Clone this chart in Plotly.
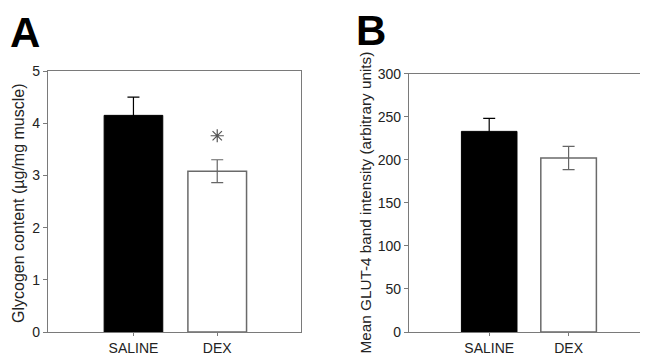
import plotly.graph_objects as go

# ---- data ----
categories = ["SALINE", "DEX"]
glycogen_mean = [4.15, 3.08]
glycogen_sem = [0.35, 0.22]
glut4_mean = [233, 202]
glut4_sem = [15, 13.5]
sig_y = [3.76]          # position of significance mark above DEX (panel A)
yticks_a = [0, 1, 2, 3, 4, 5]
yticks_b = [0, 50, 100, 150, 200, 250, 300]

# page has an 8px body margin, so the figure is 8px smaller on each axis
OFF = 8
W, H = 648 - OFF, 359 - OFF
FONT = "Liberation Sans, Arial, sans-serif"
AX = "#7a7a7a"


def px(x):
    return (x - OFF) / W


def py(y):
    return 1 - (y - OFF) / H


fig = go.Figure()

# Panel A bars
fig.add_trace(go.Bar(x=[categories[0]], y=[glycogen_mean[0]], width=0.7,
                     marker=dict(color="#000000", line=dict(color="#000000", width=1)),
                     error_y=dict(type="data", array=[glycogen_sem[0]], color="#000000",
                                  thickness=1.2, width=6),
                     xaxis="x", yaxis="y", showlegend=False))
fig.add_trace(go.Bar(x=[categories[1]], y=[glycogen_mean[1]], width=0.7,
                     marker=dict(color="#ffffff", line=dict(color="#6a6a6a", width=1.5)),
                     error_y=dict(type="data", array=[glycogen_sem[1]], color="#666666",
                                  thickness=1.2, width=6),
                     xaxis="x", yaxis="y", showlegend=False))
fig.add_trace(go.Scatter(x=[categories[1]], y=sig_y, mode="markers",
                         marker=dict(symbol="asterisk-open", size=11, color="#555555",
                                     line=dict(color="#555555", width=1.2)),
                         xaxis="x", yaxis="y", showlegend=False, hoverinfo="skip"))

# Panel B bars
fig.add_trace(go.Bar(x=[categories[0]], y=[glut4_mean[0]], width=0.7,
                     marker=dict(color="#000000", line=dict(color="#000000", width=1)),
                     error_y=dict(type="data", array=[glut4_sem[0]], color="#000000",
                                  thickness=1.2, width=6),
                     xaxis="x2", yaxis="y2", showlegend=False))
fig.add_trace(go.Bar(x=[categories[1]], y=[glut4_mean[1]], width=0.7,
                     marker=dict(color="#ffffff", line=dict(color="#6a6a6a", width=1.5)),
                     error_y=dict(type="data", array=[glut4_sem[1]], color="#666666",
                                  thickness=1.2, width=6),
                     xaxis="x2", yaxis="y2", showlegend=False))

xcommon = dict(type="category", categoryorder="array", categoryarray=categories,
               showline=True, linecolor=AX, linewidth=1.2, mirror=True,
               ticks="outside", ticklen=3, tickcolor=AX, tickwidth=1,
               showgrid=False, zeroline=False, automargin=False,
               tickfont=dict(family=FONT, size=14, color="#222222"))
ycommon = dict(showline=True, linecolor=AX, linewidth=1.2, mirror=True,
               ticks="outside", ticklen=4, tickcolor=AX, tickwidth=1,
               showgrid=False, zeroline=False, automargin=False,
               tickfont=dict(family=FONT, size=14, color="#222222"))

fig.update_layout(
    width=W, height=H,
    margin=dict(l=0, r=0, t=0, b=0, pad=0, autoexpand=False),
    paper_bgcolor="white", plot_bgcolor="white",
    xaxis=dict(domain=[px(48), px(301)], range=[-1.02, 2.0], anchor="y", **xcommon),
    yaxis=dict(domain=[py(332), py(71)], range=[0, 5], tickvals=yticks_a,
               anchor="x", **ycommon),
    xaxis2=dict(domain=[px(409), 1.0], range=[-1.01, 2.0], anchor="y2", **xcommon),
    yaxis2=dict(domain=[py(332), py(73.7)], range=[0, 300], tickvals=yticks_b,
                anchor="x2", **ycommon),
    annotations=[
        dict(text="<b>A</b>", x=px(8.5), y=py(31.5), xref="paper", yref="paper",
             xanchor="left", yanchor="middle", showarrow=False,
             height=40, valign="middle", borderpad=0,
             font=dict(family=FONT, size=42, color="#000000")),
        dict(text="<b>B</b>", x=px(354.5), y=py(30.5), xref="paper", yref="paper",
             xanchor="left", yanchor="middle", showarrow=False,
             height=40, valign="middle", borderpad=0,
             font=dict(family=FONT, size=42, color="#000000")),
        dict(text="Glycogen content (µg/mg muscle)", textangle=-90,
             x=px(18.5), y=py(203.5), xref="paper", yref="paper",
             xanchor="center", yanchor="middle", showarrow=False,
             font=dict(family=FONT, size=16, color="#222222")),
        dict(text="Mean GLUT-4 band intensity (arbitrary units)", textangle=-90,
             x=px(364.5), y=py(203), xref="paper", yref="paper",
             xanchor="center", yanchor="middle", showarrow=False,
             font=dict(family=FONT, size=15.3, color="#222222")),
    ],
)

fig.write_html("out.html")
